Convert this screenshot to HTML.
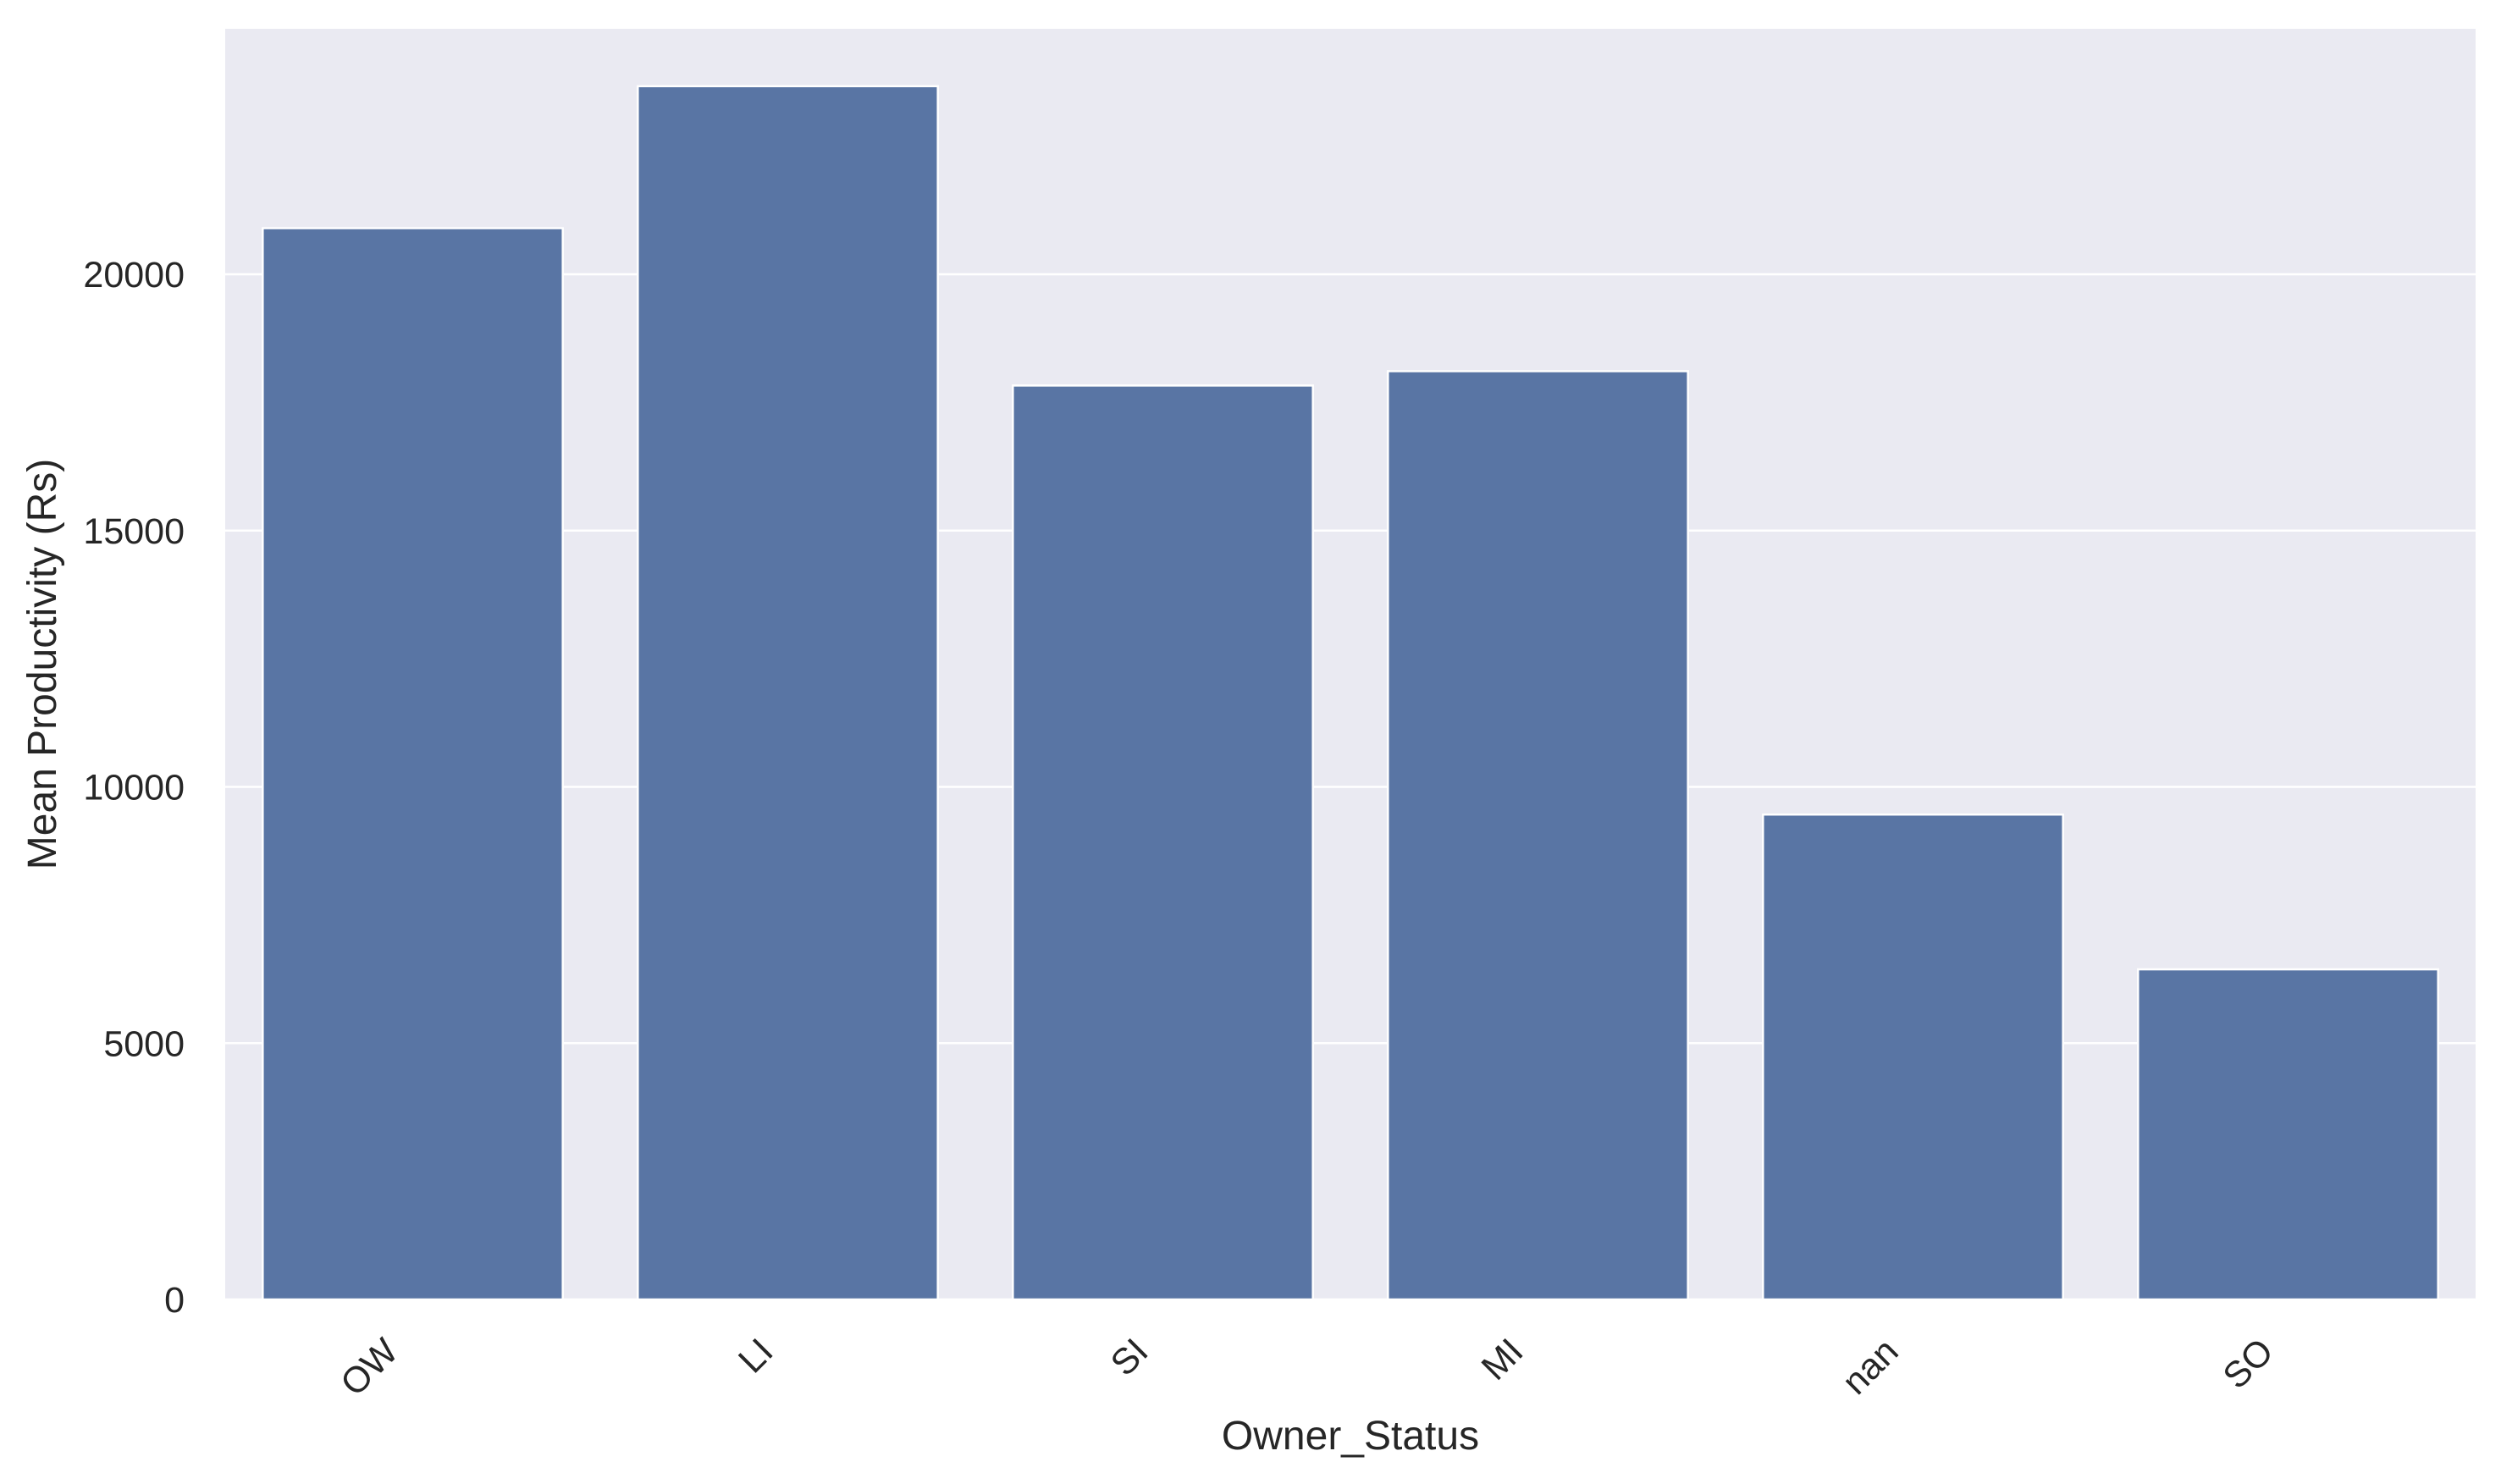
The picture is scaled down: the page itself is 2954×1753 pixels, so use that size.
<!DOCTYPE html>
<html><head><meta charset="utf-8"><style>body{margin:0;background:#fff}svg{display:block}text{font-family:"Liberation Sans",Arial,sans-serif;fill:#262626}</style></head>
<body>
<svg id="chart" width="2954" height="1753" viewBox="0 0 2954 1753"></svg>
<script>
const categories = ["OW","LI","SI","MI","nan","SO"];
const values = [20900, 23670, 17830, 18110, 9460, 6440];
const yTicks = [0, 5000, 10000, 15000, 20000];
const L=266, R=2924, T=34, B=1535, YMAX=24790;
const svg=document.getElementById('chart');
const NS='http://www.w3.org/2000/svg';
function y(v){return B-(v/YMAX)*(B-T);}
const band=(R-L)/categories.length;
function xc(i){return L+band*(i+0.5);}
function mk(tag,attrs,parent){const e=document.createElementNS(NS,tag);for(const k in attrs)e.setAttribute(k,attrs[k]);(parent||svg).appendChild(e);return e;}
const bg=mk('rect',{x:L,y:T,width:R-L,height:B-T,fill:'#eaeaf2'});


yTicks.forEach(t=>{
  const g=mk('line',{x1:L,x2:R,y1:y(t),y2:y(t),stroke:'#fff','stroke-width':2.5});
  
  
  const tx=mk('text',{x:L-48,y:y(t)+15,'text-anchor':'end','font-size':43});
  tx.textContent=t;
  
  
});
categories.forEach((c,i)=>{
  const w=band*0.8;
  const r=mk('rect',{x:xc(i)-w/2,y:y(values[i]),width:w,height:B-y(values[i]),fill:'#5975a4',stroke:'#fff','stroke-width':2.5});
  
  
  const tx=mk('text',{x:0,y:0,'text-anchor':'end','font-size':43,transform:`translate(${xc(i)-15},${B+64}) rotate(-45)`});
  tx.textContent=c;
  
  
});
const xl=mk('text',{x:(L+R)/2,y:1712,'text-anchor':'middle','font-size':48});
xl.textContent='Owner_Status';


const yl=mk('text',{x:0,y:0,'text-anchor':'middle','font-size':48,transform:`translate(66,${(T+B)/2}) rotate(-90)`});
yl.textContent='Mean Productivity (Rs)';


</script>
</body></html>
